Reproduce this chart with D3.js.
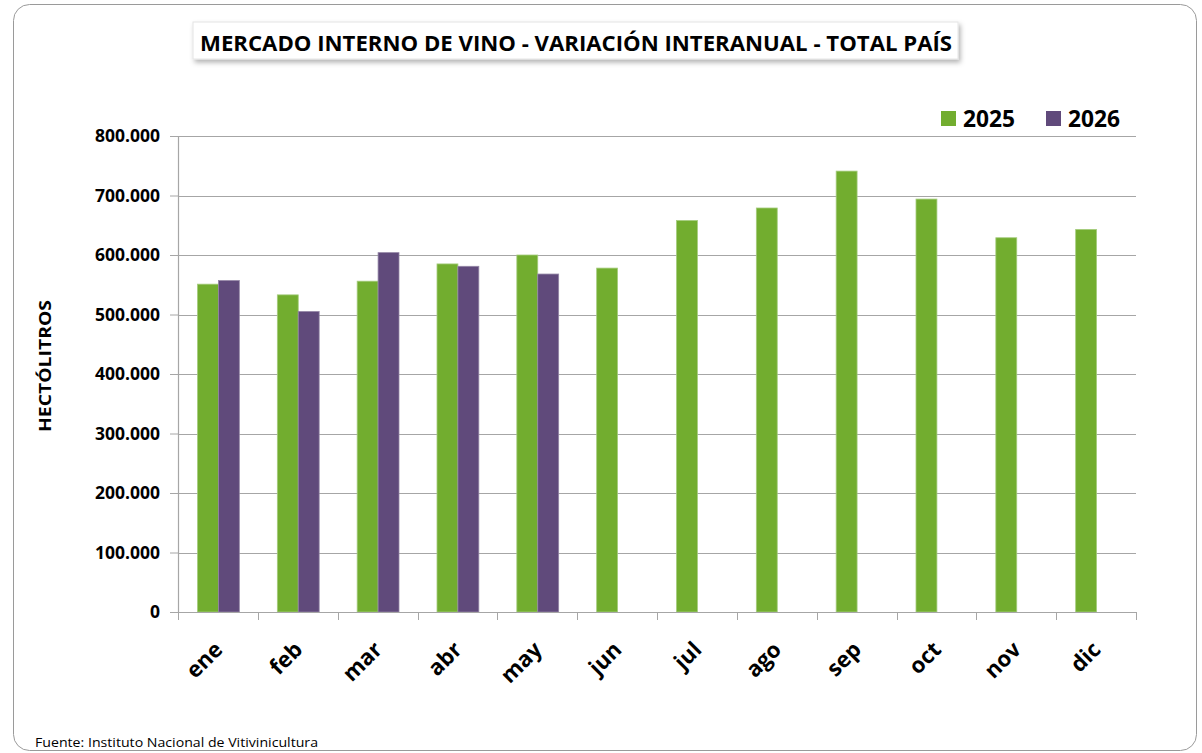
<!DOCTYPE html>
<html>
<head>
<meta charset="utf-8">
<script src="https://cdn.jsdelivr.net/npm/d3@7"></script>
<style>
  body { margin: 0; background: #fff; }
  text { font-family: "Open Sans", sans-serif; }
</style>
</head>
<body>
<div id="graph"></div>
<script>
const months = ["ene","feb","mar","abr","may","jun","jul","ago","sep","oct","nov","dic"]
const v2025 = [551000, 533000, 556000, 585000, 600000, 578000, 658000, 679000, 741000, 694000, 629000, 643000]
const v2026 = [557000, 505000, 604000, 581000, 568000]
const yTicks = [0, 100000, 200000, 300000, 400000, 500000, 600000, 700000, 800000]
const series = ["2025", "2026"]

const green = "#72ad2f"
const purple = "#604a7b"

const margin = {top: 136, right: 66, bottom: 141, left: 178}
const W = 1202, H = 753
const width = W - margin.left - margin.right
const height = H - margin.top - margin.bottom

const root = d3.select("#graph")
  .append("svg")
  .attr("width", W)
  .attr("height", H)

// shadow for title box
const defs = root.append("defs")
defs.append("filter")
  .attr("id", "shadow")
  .attr("x", "-5%").attr("y", "-30%")
  .attr("width", "110%").attr("height", "170%")
  .append("feDropShadow")
  .attr("dx", 2).attr("dy", 3)
  .attr("stdDeviation", 2.5)
  .attr("flood-color", "#000")
  .attr("flood-opacity", 0.3)

// outer frame
root.append("rect")
  .attr("x", 13.5).attr("y", 4.5)
  .attr("width", 1183).attr("height", 746)
  .attr("rx", 16)
  .attr("fill", "#fff")
  .attr("stroke", "#9a9a9a")
  .attr("stroke-width", 1)

// title
root.append("rect")
  .attr("x", 193).attr("y", 22)
  .attr("width", 765).attr("height", 37)
  .attr("fill", "#fff")
  .attr("stroke", "#e4e4e4")
  .attr("filter", "url(#shadow)")

root.append("text")
  .attr("x", 200).attr("y", 51)
  .attr("font-size", 21)
  .attr("font-weight", "bold")
  .attr("textLength", 752)
  .attr("lengthAdjust", "spacingAndGlyphs")
  .attr("fill", "#000")
  .text("MERCADO INTERNO DE VINO - VARIACIÓN INTERANUAL - TOTAL PAÍS")

const svg = root.append("g")
  .attr("transform", `translate(${margin.left},${margin.top})`)

// scales
const x = d3.scaleBand()
  .domain(months)
  .range([0, width])

const x1 = d3.scaleBand()
  .domain(series)
  .range([19.5, x.bandwidth() - 18.5])

const y = d3.scaleLinear()
  .domain([0, 800000])
  .range([height, 0])

// gridlines
svg.append("g")
  .selectAll("line")
  .data(yTicks.slice(1))
  .join("line")
  .attr("x1", 0).attr("x2", width)
  .attr("y1", d => Math.round(y(d)) + 0.5)
  .attr("y2", d => Math.round(y(d)) + 0.5)
  .attr("stroke", "#a6a6a6")
  .attr("stroke-width", 1.2)

// y axis
const fmt = d => d3.format(",")(d).replace(/,/g, ".")
const yAxis = svg.append("g")
  .call(d3.axisLeft(y).tickValues(yTicks).tickFormat(fmt).tickSize(8).tickPadding(10))
yAxis.select(".domain").attr("stroke", "#a6a6a6").attr("stroke-width", 1.2)
yAxis.selectAll(".tick line").attr("stroke", "#a6a6a6")
yAxis.selectAll(".tick text")
  .attr("font-family", "Open Sans")
  .attr("font-size", 17.5)
  .attr("font-weight", "bold")
  .attr("fill", "#000")

// bars
const rows = months.map((m, i) => ({month: m, vals: [
  {key: "2025", value: v2025[i]},
  {key: "2026", value: v2026[i]}
].filter(d => d.value != null)}))

const groups = svg.append("g")
  .selectAll("g")
  .data(rows)
  .join("g")
  .attr("transform", d => `translate(${x(d.month)},0)`)

groups.selectAll("rect")
  .data(d => d.vals)
  .join("rect")
  .attr("x", d => x1(d.key))
  .attr("width", x1.bandwidth())
  .attr("y", d => y(d.value))
  .attr("height", d => height - y(d.value))
  .attr("fill", d => d.key === "2025" ? green : purple)
  .attr("stroke", d => d.key === "2025" ? "#a5cc7d" : "#9486a6")
  .attr("stroke-width", 0.8)

// x axis
const xAxis = svg.append("g")
  .attr("transform", `translate(0,${height})`)
xAxis.append("line")
  .attr("x1", 0).attr("x2", width)
  .attr("y1", 0.5).attr("y2", 0.5)
  .attr("stroke", "#a6a6a6")
  .attr("stroke-width", 1.2)
xAxis.selectAll(".xt")
  .data(d3.range(months.length + 1))
  .join("line")
  .attr("class", "xt")
  .attr("x1", i => Math.round(i * x.step()) + 0.5)
  .attr("x2", i => Math.round(i * x.step()) + 0.5)
  .attr("y1", 0).attr("y2", 8)
  .attr("stroke", "#a6a6a6")

xAxis.selectAll(".xl")
  .data(months)
  .join("text")
  .attr("class", "xl")
  .attr("text-anchor", "end")
  .attr("font-size", 22)
  .attr("font-weight", "bold")
  .attr("fill", "#000")
  .attr("transform", d => `translate(${x(d) + x.bandwidth() / 2 + 6},${39}) rotate(-45)`)
  .text(d => d)

// y axis title
root.append("text")
  .attr("transform", `translate(51,366) rotate(-90)`)
  .attr("text-anchor", "middle")
  .attr("font-size", 16.5)
  .attr("font-weight", "bold")
  .attr("textLength", 132)
  .attr("lengthAdjust", "spacingAndGlyphs")
  .attr("fill", "#000")
  .text("HECTÓLITROS")

// legend
const legend = root.append("g")
  .attr("class", "legend")
const legendX = [941, 1046]
series.forEach((s, i) => {
  legend.append("rect")
    .attr("x", legendX[i]).attr("y", 111)
    .attr("width", 15).attr("height", 15)
    .attr("fill", i === 0 ? green : purple)
  legend.append("text")
    .attr("x", legendX[i] + 22).attr("y", 127)
    .attr("font-size", 23)
    .attr("font-weight", "bold")
    .attr("textLength", 52)
    .attr("lengthAdjust", "spacingAndGlyphs")
    .attr("fill", "#000")
    .text(s)
})

// footer
root.append("text")
  .attr("x", 35).attr("y", 747)
  .attr("font-size", 13.5)
  .attr("textLength", 283)
  .attr("lengthAdjust", "spacingAndGlyphs")
  .attr("fill", "#000")
  .text("Fuente: Instituto Nacional de Vitivinicultura")
</script>
</body>
</html>
